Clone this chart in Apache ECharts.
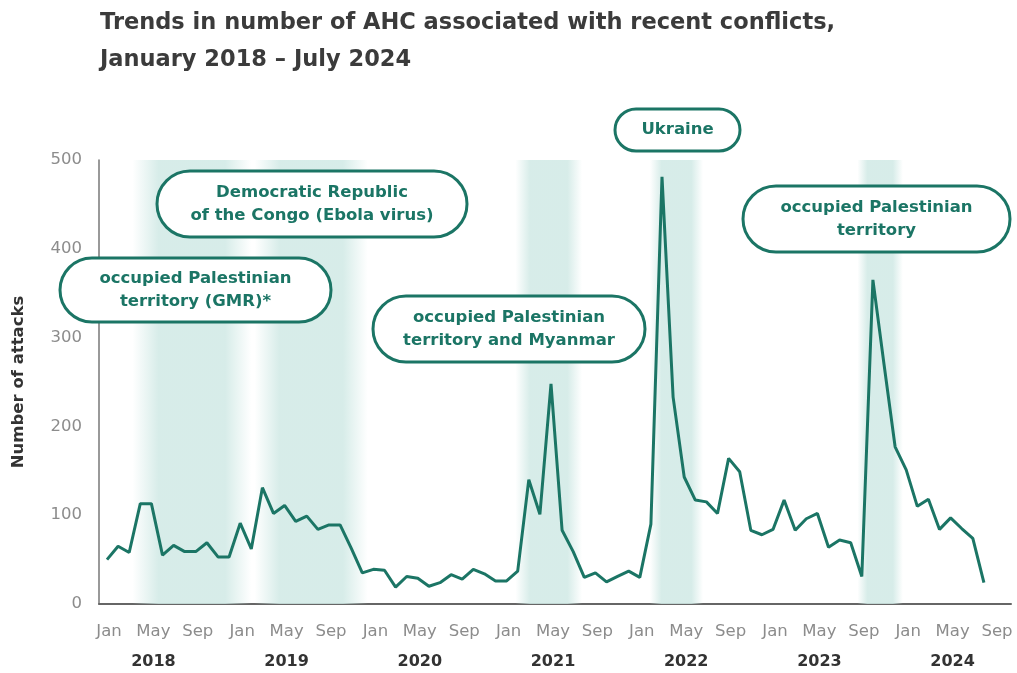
<!DOCTYPE html>
<html>
<head>
<meta charset="utf-8">
<script src="https://cdn.jsdelivr.net/npm/echarts@6/dist/echarts.min.js"></script>
<style>
html,body{margin:0;padding:0;background:#fff;}
#chart{width:1017px;height:673px;}
</style>
</head>
<body>
<div id="chart"></div>
<script>
// ---- data ----
const startYear = 2018;
const monthNames = ['Jan','Feb','Mar','Apr','May','Jun','Jul','Aug','Sep','Oct','Nov','Dec'];
const tickMonths = [0,4,8,12,16,20,24,28,32,36,40,44,48,52,56,60,64,68,72,76,80];
const yearLabels = ['2018','2019','2020','2021','2022','2023','2024'];
const attacks = [
  50,65,58,113,113,55,66,59,59,69,53,53,
  91,62,131,102,111,93,99,84,89,89,63,35,
  39,38,19,31,29,20,24,33,28,39,34,26,
  26,37,140,101,248,83,59,30,35,25,31,37,
  30,90,481,233,143,117,115,102,164,149,83,78,
  84,117,83,96,102,64,72,69,31,365,270,177,
  151,110,118,84,97,85,74,24
];
// conflict periods shaded (month index from Jan 2018)
const periodStart = [2.3, 13.3, 36.8, 48.9, 67.6];
const periodEnd   = [13.0, 23.5, 42.8, 53.7, 71.7];
const annotationTexts = [
  'occupied Palestinian\nterritory (GMR)*',
  'Democratic Republic\nof the Congo (Ebola virus)',
  'occupied Palestinian\nterritory and Myanmar',
  'Ukraine',
  'occupied Palestinian\nterritory'
];

// ---- chart ----
const teal = '#1b7565';
const FONT = 'DejaVu Sans';
const chart = echarts.init(document.getElementById('chart'), null, {renderer:'canvas'});

const bandColor = {
  type:'linear', x:0, y:0, x2:1, y2:0,
  colorStops:[
    {offset:0, color:'rgba(208,233,229,0)'},
    {offset:0.22, color:'rgba(208,233,229,0.85)'},
    {offset:0.78, color:'rgba(208,233,229,0.85)'},
    {offset:1, color:'rgba(208,233,229,0)'}
  ]
};

const boxes = [
  {x:60, y:258, w:271, h:64},
  {x:157, y:171, w:310, h:66},
  {x:373, y:296, w:272, h:66},
  {x:615, y:109, w:125, h:42},
  {x:743, y:186, w:267, h:66}
];

const graphics = [];
boxes.forEach((b,i)=>{
  graphics.push({type:'rect', z:100, shape:{x:b.x, y:b.y, width:b.w, height:b.h, r:b.h/2},
     style:{fill:'#ffffff', stroke:teal, lineWidth:3}});
  graphics.push({type:'text', z:101, style:{text:annotationTexts[i], x:b.x+b.w/2, y:b.y+b.h/2,
      align:'center', verticalAlign:'middle', fontSize:16.5, fontWeight:'bold',
      fontFamily:FONT, fill:teal, lineHeight:23}});
});

const option = {
  backgroundColor:'#ffffff',
  animation:false,
  title:{
    text:'Trends in number of AHC associated with recent conflicts,\nJanuary 2018 – July 2024',
    left:95, top:0,
    textStyle:{fontFamily:FONT, fontSize:22.5, fontWeight:'bold', color:'#3b3b3b', lineHeight:37}
  },
  grid:{left:99, right:6, top:160, bottom:69, containLabel:false, outerBoundsMode:'none'},
  xAxis:{
    type:'value', min:-0.72, max:81.44,
    splitLine:{show:false},
    axisTick:{show:false},
    axisLine:{show:true, onZero:false, lineStyle:{color:'#666666', width:2}},
    axisLabel:{
      customValues:tickMonths,
      margin:13,
      padding:[0,0,0,4],
      formatter:function(v){
        const m = Math.round(v);
        const name = monthNames[m % 12];
        if (m % 12 === 4) {
          return '{m|' + name + '}\n{y|' + yearLabels[Math.floor(m/12)] + '}';
        }
        return '{m|' + name + '}';
      },
      rich:{
        m:{fontFamily:FONT, fontSize:16.5, color:'#8c8c8c', lineHeight:30},
        y:{fontFamily:FONT, fontSize:16, fontWeight:'bold', color:'#333333', lineHeight:30}
      }
    }
  },
  yAxis:{
    type:'value', min:0, max:500, interval:100,
    splitLine:{show:false},
    axisTick:{show:false},
    axisLine:{show:true, onZero:false, lineStyle:{color:'#777777', width:1.5}},
    axisLabel:{fontFamily:FONT, fontSize:16.5, color:'#8c8c8c', margin:17},
    name:'Number of attacks',
    nameLocation:'middle', nameRotate:90, nameGap:72,
    nameTextStyle:{fontFamily:FONT, fontSize:16.5, fontWeight:'bold', color:'#333333'}
  },
  series:[{
    type:'line',
    data:attacks.map((v,i)=>[i,v]),
    symbol:'none',
    lineStyle:{color:teal, width:3},
    z:5,
    markArea:{
      silent:true,
      itemStyle:{color:bandColor},
      data:periodStart.map((s,i)=>[{xAxis:s},{xAxis:periodEnd[i]}])
    }
  }],
  graphic:graphics
};
chart.setOption(option);
</script>
</body>
</html>
